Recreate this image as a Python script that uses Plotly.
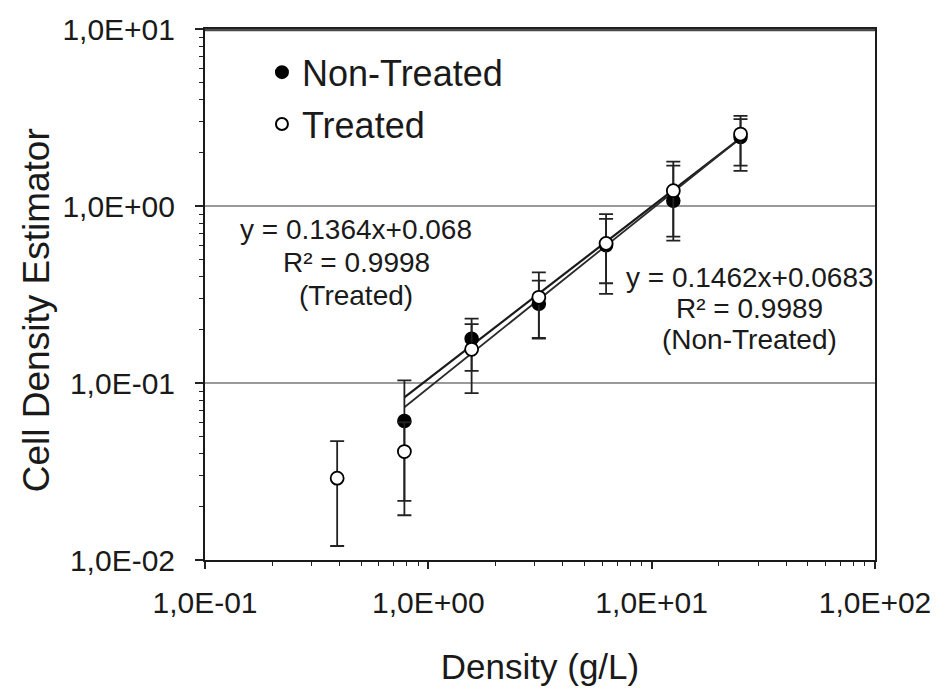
import plotly.graph_objects as go

# ---- data ----
density = [0.390625, 0.78125, 1.5625, 3.125, 6.25, 12.5, 25.0]

nt_x = [0.78125, 1.5625, 3.125, 6.25, 12.5, 25.0]
nt_y = [0.061, 0.178, 0.280, 0.600, 1.07, 2.45]
nt_upper = [0.1035, 0.231, 0.379, 0.845, 1.69, 3.10]
nt_lower = [0.0216, 0.117, 0.178, 0.366, 0.637, 1.58]

t_x = density
t_y = [0.029, 0.041, 0.155, 0.305, 0.615, 1.22, 2.55]
t_upper = [0.047, 0.060, 0.215, 0.422, 0.90, 1.78, 3.23]
t_lower = [0.012, 0.0179, 0.0877, 0.180, 0.319, 0.671, 1.69]

trend_x = [0.78125, 25.0]
nt_trend = [0.083, 2.42]
t_trend = [0.073, 2.42]

x_tickvals = [0.1, 1, 10, 100]
x_ticktext = ["1,0E-01", "1,0E+00", "1,0E+01", "1,0E+02"]
y_tickvals = [0.01, 0.1, 1, 10]
y_ticktext = ["1,0E-02", "1,0E-01", "1,0E+00", "1,0E+01"]

eq_treated = ["y = 0.1364x+0.068", "R² = 0.9998", "(Treated)"]
eq_nontreated = ["y = 0.1462x+0.0683", "R² = 0.9989", "(Non-Treated)"]

FONT = "Liberation Sans, Arial, sans-serif"
INK = "#1a1a1a"

def err(y, up, lo):
    return ([u - v for u, v in zip(up, y)], [v - l for v, l in zip(y, lo)])

nt_plus, nt_minus = err(nt_y, nt_upper, nt_lower)
t_plus, t_minus = err(t_y, t_upper, t_lower)

fig = go.Figure()

fig.add_trace(go.Scatter(x=trend_x, y=nt_trend, mode="lines",
                         line=dict(color="#1a1a1a", width=2.2), showlegend=False,
                         hoverinfo="skip"))
fig.add_trace(go.Scatter(x=trend_x, y=t_trend, mode="lines",
                         line=dict(color="#2a2a2a", width=1.8), showlegend=False,
                         hoverinfo="skip"))

fig.add_trace(go.Scatter(
    x=nt_x, y=nt_y, mode="markers", name="Non-Treated", legendgroup="a",
    marker=dict(symbol="circle", size=13, color="black",
                line=dict(color="black", width=1.5)),
    error_y=dict(type="data", symmetric=False, array=nt_plus,
                 arrayminus=nt_minus, color="#222", thickness=1.8, width=7)))

fig.add_trace(go.Scatter(
    x=t_x, y=t_y, mode="markers", name="Treated", legendgroup="b",
    marker=dict(symbol="circle", size=13, color="white",
                line=dict(color="black", width=1.8)),
    error_y=dict(type="data", symmetric=False, array=t_plus,
                 arrayminus=t_minus, color="#222", thickness=1.8, width=7)))

# equation labels, one annotation per line (plot area: x 205..878, y 28..560 px)
PW, PH, PL, PT = 673.0, 532.0, 205.0, 28.0

def add_block(lines, cx, cy0, step):
    for i, s in enumerate(lines):
        fig.add_annotation(x=(cx - PL) / PW, y=1 - (cy0 + i * step - PT) / PH,
                           xref="paper", yref="paper", text=s, showarrow=False,
                           xanchor="center", yanchor="middle",
                           font=dict(family=FONT, size=28, color=INK))

add_block(eq_treated, 357, 229, 33)
add_block(eq_nontreated, 752, 277, 31)

# y-axis title
fig.add_annotation(x=(36 - PL) / PW, y=1 - (310 - PT) / PH, xref="paper",
                   yref="paper", text="Cell Density Estimator", textangle=-90,
                   showarrow=False, xanchor="center", yanchor="middle",
                   font=dict(family=FONT, size=37, color=INK))

# top frame line of the plot area
fig.add_shape(type="line", xref="paper", yref="paper", x0=0, x1=1,
              y0=0.998, y1=0.998, layer="above",
              line=dict(color="#4a4a4a", width=2.5))

fig.update_layout(
    width=943, height=696,
    margin=dict(l=205, r=65, t=28, b=136),
    paper_bgcolor="white", plot_bgcolor="white",
    font=dict(family=FONT, color=INK),
    legend=dict(x=0.085, y=0.975, xanchor="left", yanchor="top",
                bgcolor="rgba(0,0,0,0)", font=dict(family=FONT, size=36, color=INK),
                tracegroupgap=2, itemsizing="constant", itemwidth=30),
    xaxis=dict(type="log", range=[-1, 2], tickvals=x_tickvals,
               ticktext=x_ticktext, tickfont=dict(size=30, family=FONT, color=INK),
               showgrid=False, zeroline=False,
               showline=True, linecolor="#1a1a1a", linewidth=2, mirror=True,
               ticks="outside", ticklen=7, tickwidth=1.5, tickcolor="#222",
               ticklabelstandoff=8,
               minor=dict(ticks="outside", ticklen=4, tickwidth=1.2,
                          tickcolor="#222", dtick="D1", showgrid=False),
               title=dict(text="Density (g/L)", standoff=36,
                          font=dict(size=35, family=FONT, color=INK))),
    yaxis=dict(type="log", range=[-2, 1], tickvals=y_tickvals,
               ticktext=y_ticktext, tickfont=dict(size=30, family=FONT, color=INK),
               showgrid=True, gridcolor="#9a9a9a", gridwidth=1.5, zeroline=False,
               showline=True, linecolor="#1a1a1a", linewidth=2, mirror=True,
               ticks="outside", ticklen=8, tickwidth=1.5, tickcolor="#222",
               ticklabelstandoff=14,
               minor=dict(ticks="outside", ticklen=4, tickwidth=1.2,
                          tickcolor="#222", dtick="D1", showgrid=False)),
)

fig.write_html("out.html")
